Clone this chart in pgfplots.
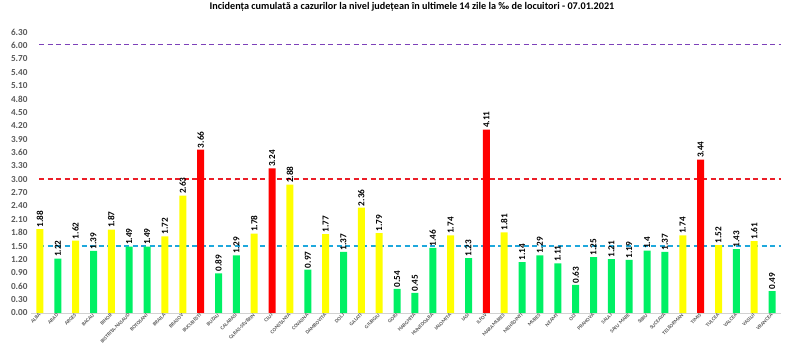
\documentclass[border=0pt]{standalone}
\usepackage{pgfplots}
\pgfplotsset{compat=1.18}
\usepackage{fontspec}
\setmainfont{Carlito}
\definecolor{cyel}{HTML}{FFFF00}
\definecolor{cgrn}{HTML}{00F064}
\definecolor{cred}{HTML}{FF0000}
\definecolor{linepur}{RGB}{125,65,185}
\definecolor{linered}{RGB}{235,30,40}
\definecolor{lineblu}{RGB}{31,168,220}
\definecolor{tgray}{HTML}{595959}
\begin{document}
\begin{tikzpicture}
\begin{axis}[
  scale only axis, width=750pt, height=281pt,
  xmin=-0.5, xmax=41.5, ymin=0, ymax=6.3,
  clip=false,
  axis x line*=bottom, axis y line*=left,
  x axis line style={draw=gray!35, line width=0.6pt},
  y axis line style={draw=none},
  tick style={draw=none},
  ytick={0,0.3,...,6.31},
  /pgf/number format/assume math mode=true,
  yticklabel style={font=\fontsize{9.2}{10}\selectfont\bfseries, text=tgray, /pgf/number format/.cd, fixed, fixed zerofill, precision=2},
  xtick={0,...,41},
  xticklabels={ALBA,ARAD,ARGES,BACAU,BIHOR,BISTRITA-NASAUD,BOTOSANI,BRAILA,BRASOV,BUCURESTI,BUZAU,CALARASI,CARAS-SEVERIN,CLUJ,CONSTANTA,COVASNA,DAMBOVITA,DOLJ,GALATI,GIURGIU,GORJ,HARGHITA,HUNEDOARA,IALOMITA,IASI,ILFOV,MARAMURES,MEHEDINTI,MURES,NEAMT,OLT,PRAHOVA,SALAJ,SATU MARE,SIBIU,SUCEAVA,TELEORMAN,TIMIS,TULCEA,VALCEA,VASLUI,VRANCEA},
  xticklabel style={font=\fontsize{5.2}{6}\selectfont\bfseries, text=tgray, rotate=45, anchor=north east, inner sep=1pt, yshift=2pt},
  title={Incidența cumulată a cazurilor la nivel județean în ultimele 14 zile la ‰ de locuitori - 07.01.2021},
  title style={font=\fontsize{10.2}{11}\selectfont\bfseries, at={(0.5,1)}, anchor=center, yshift=19pt, xshift=6pt},
  bars/.style={ybar, bar width=7pt, bar shift=0pt, draw=none, nodes near coords,
    every node near coord/.append style={font=\fontsize{9.2}{10}\selectfont\bfseries, rotate=90, anchor=west, inner sep=1.5pt, /pgf/number format/assume math mode=true}},
]
\draw[draw=linepur, line width=1.4pt, dash pattern=on 5pt off 3.5pt] (axis cs:-0.05,6.015) -- (axis cs:41.5,6.015);
\addplot[sharp plot, mark=none, draw=lineblu, line width=1.3pt, dash pattern=on 5pt off 3.5pt, forget plot] coordinates {(-0.05,1.5) (41.5,1.5)};
\addplot[sharp plot, mark=none, draw=linered, line width=1.3pt, dash pattern=on 5pt off 3.5pt, forget plot] coordinates {(-0.05,3.001) (41.5,3.001)};
\addplot[bars, fill=cyel] coordinates {
 (0,1.88) (2,1.62) (4,1.87) (7,1.72) (8,2.63) (12,1.78) (14,2.88) (16,1.77) (18,2.36) (19,1.79) (23,1.74) (26,1.81) (36,1.74) (38,1.52) (40,1.61)};
\addplot[bars, fill=cgrn] coordinates {
 (1,1.22) (3,1.39) (5,1.49) (6,1.49) (10,0.89) (11,1.29) (15,0.97) (17,1.37) (20,0.54) (21,0.45) (22,1.46) (24,1.23) (27,1.14) (28,1.29) (29,1.11) (30,0.63) (31,1.25) (32,1.21) (33,1.19) (34,1.4) (35,1.37) (39,1.43) (41,0.49)};
\addplot[bars, fill=cred] coordinates {
 (9,3.66) (13,3.24) (25,4.11) (37,3.44)};
\end{axis}
\pgfresetboundingbox
\path (-31pt,-39pt) rectangle (769pt,313pt);
\end{tikzpicture}
\end{document}
